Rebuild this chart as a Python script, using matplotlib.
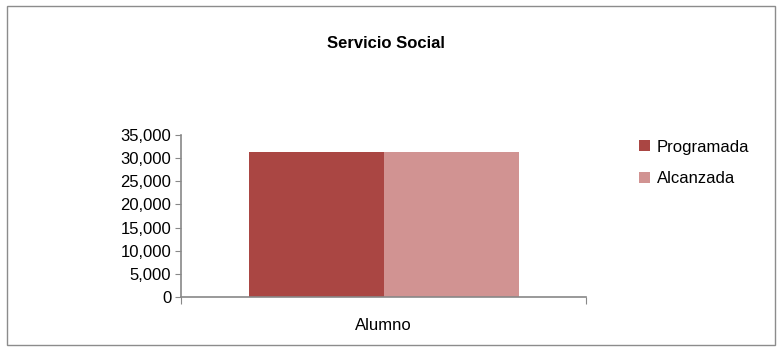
import matplotlib.pyplot as plt
from matplotlib.patches import Rectangle
from matplotlib.ticker import FuncFormatter

plt.rcParams['font.family'] = ['Liberation Sans', 'DejaVu Sans']

# datos
categorias = ['Alumno']
series = ['Programada', 'Alcanzada']
valores = {'Programada': [31300], 'Alcanzada': [31300]}
colores = ['#AA4643', '#D19392']

fig = plt.figure(figsize=(7.82, 3.52), dpi=100)
ax = fig.add_axes([0.2315, 0.156, 0.518, 0.4605])

ancho = 1 / 3
for i, s in enumerate(series):
    offs = (i - 0.5) * ancho
    ax.bar([k + offs for k in range(len(categorias))], valores[s], width=ancho,
           color=colores[i], label=s)

ax.set_xlim(-0.5, len(categorias) - 0.5)
ax.set_ylim(0, 35000)
ax.set_yticks(range(0, 35001, 5000))
ax.yaxis.set_major_formatter(FuncFormatter(lambda v, p: f'{int(v):,}'))
ax.set_xticks([-0.5, 0.5], minor=False)
ax.set_xticklabels(['', ''])
ax.set_xticks([0], minor=True)
ax.set_xticklabels(categorias, minor=True)
ax.tick_params(axis='x', which='minor', length=0, pad=15, labelsize=12)
ax.tick_params(axis='x', which='major', length=5, color='#888888', direction='out')
ax.tick_params(axis='y', length=4, color='#888888', labelsize=12, pad=3)

for side in ['top', 'right']:
    ax.spines[side].set_visible(False)
for side in ['left', 'bottom']:
    ax.spines[side].set_color('#888888')
    ax.spines[side].set_linewidth(1.2)

fig.text(0.494, 0.877, 'Servicio Social', ha='center', va='center',
         fontsize=12, fontweight='bold')

fig.legend(loc='upper left', bbox_to_anchor=(0.809, 0.622), frameon=False,
           fontsize=12, handlelength=0.65, handleheight=0.65, handletextpad=0.4,
           labelspacing=1.0, borderaxespad=0)

fig.patches.append(Rectangle((0.009, 0.02), 0.982, 0.962, transform=fig.transFigure,
                             fill=False, edgecolor='#8c8c8c', linewidth=1))

fig.savefig('out.png', dpi=100)
